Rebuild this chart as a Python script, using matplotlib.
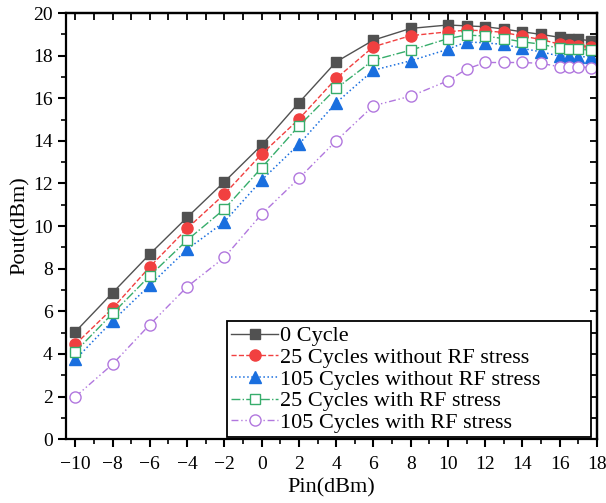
import matplotlib
matplotlib.use("Agg")
import matplotlib.pyplot as plt
from matplotlib.ticker import MultipleLocator

plt.rcParams['font.family'] = ['Liberation Serif', 'DejaVu Serif']

# input power (dBm)
pin = [-10, -8, -6, -4, -2, 0, 2, 4, 6, 8, 10, 11, 12, 13, 14, 15, 16, 16.5, 17, 17.7]

# output power (dBm) for each condition
cycle0 = [5.04, 6.87, 8.69, 10.41, 12.08, 13.8, 15.79, 17.71, 18.73, 19.28,
          19.44, 19.4, 19.36, 19.25, 19.12, 19.0, 18.86, 18.8, 18.77, 18.7]
c25_no_rf = [4.45, 6.14, 8.09, 9.89, 11.5, 13.38, 15.02, 16.93, 18.42, 18.94,
             19.12, 19.2, 19.17, 19.09, 18.92, 18.76, 18.54, 18.5, 18.47, 18.42]
c105_no_rf = [3.74, 5.55, 7.23, 8.91, 10.2, 12.16, 13.84, 15.79, 17.32, 17.76,
              18.3, 18.65, 18.6, 18.53, 18.34, 18.18, 17.98, 17.98, 17.95, 17.95]
c25_rf = [4.1, 5.9, 7.67, 9.34, 10.8, 12.74, 14.7, 16.46, 17.79, 18.26,
          18.8, 18.97, 18.92, 18.8, 18.65, 18.54, 18.34, 18.31, 18.3, 18.26]
c105_rf = [1.99, 3.52, 5.38, 7.15, 8.53, 10.56, 12.24, 14.0, 15.65, 16.1,
           16.82, 17.37, 17.68, 17.68, 17.68, 17.64, 17.48, 17.48, 17.48, 17.43]

labels = ['0 Cycle', '25 Cycles without RF stress', '105 Cycles without RF stress',
          '25 Cycles with RF stress', '105 Cycles with RF stress']

fig = plt.figure(figsize=(6.06, 5.03), dpi=100)
ax = fig.add_axes([0.109, 0.127, 0.876, 0.847])

ax.plot(pin, cycle0, '-', color='#515151', lw=1, marker='s', ms=7.5,
        mfc='#515151', mec='#515151', label=labels[0])
ax.plot(pin, c25_no_rf, '--', color='#F14040', lw=1, marker='o', ms=8,
        mfc='#F14040', mec='#F14040', label=labels[1])
ax.plot(pin, c105_no_rf, ':', color='#1A6FDF', lw=1.1, marker='^', ms=8.5,
        mfc='#1A6FDF', mec='#1A6FDF', label=labels[2])
ax.plot(pin, c25_rf, '-.', color='#37AD6B', lw=1, marker='s', ms=7.5,
        mfc='white', mec='#37AD6B', label=labels[3])
ax.plot(pin, c105_rf, color='#B177DE', lw=1, dashes=[5, 2, 1, 2, 1, 2], marker='o', ms=8,
        mfc='white', mec='#B177DE', label=labels[4])

ax.set_xlim(-10.5, 18)
ax.set_ylim(0, 20)
ax.xaxis.set_major_locator(MultipleLocator(2))
ax.xaxis.set_minor_locator(MultipleLocator(1))
ax.yaxis.set_major_locator(MultipleLocator(2))
ax.yaxis.set_minor_locator(MultipleLocator(1))
ax.tick_params(which='major', direction='out', length=6, width=1.5, labelsize=14,
               top=False, right=False)
ax.tick_params(axis='x', which='major', pad=6)
ax.tick_params(which='minor', direction='out', length=3.5, width=1.2,
               top=False, right=False)
ax.set_xticklabels([('\u2212' if t < 0 else '') + str(abs(int(t))) for t in ax.get_xticks()])

# inward ticks on top and right
secx = ax.secondary_xaxis('top')
secx.xaxis.set_major_locator(MultipleLocator(2))
secx.xaxis.set_minor_locator(MultipleLocator(1))
secx.tick_params(which='both', direction='in', length=5, width=1.3, labeltop=False)
secy = ax.secondary_yaxis('right')
secy.yaxis.set_major_locator(MultipleLocator(2))
secy.yaxis.set_minor_locator(MultipleLocator(1))
secy.tick_params(which='both', direction='in', length=5, width=1.3, labelright=False)

for s in ax.spines.values():
    s.set_linewidth(1.6)
secx.spines['top'].set_linewidth(1.6)
secy.spines['right'].set_linewidth(1.6)

ax.set_xlabel('Pin(dBm)', fontsize=16, labelpad=4)
ax.set_ylabel('Pout(dBm)', fontsize=16, labelpad=2)

leg = ax.legend(loc='lower left', bbox_to_anchor=(0.303, 0.004, 0.686, 0.3), mode='expand',
                fontsize=16, handlelength=2.1, handletextpad=0.1, labelspacing=0.05,
                borderpad=0.2, borderaxespad=0, fancybox=False, framealpha=1,
                edgecolor='black')
leg.get_frame().set_linewidth(1.3)

fig.savefig('out.png', dpi=100)
